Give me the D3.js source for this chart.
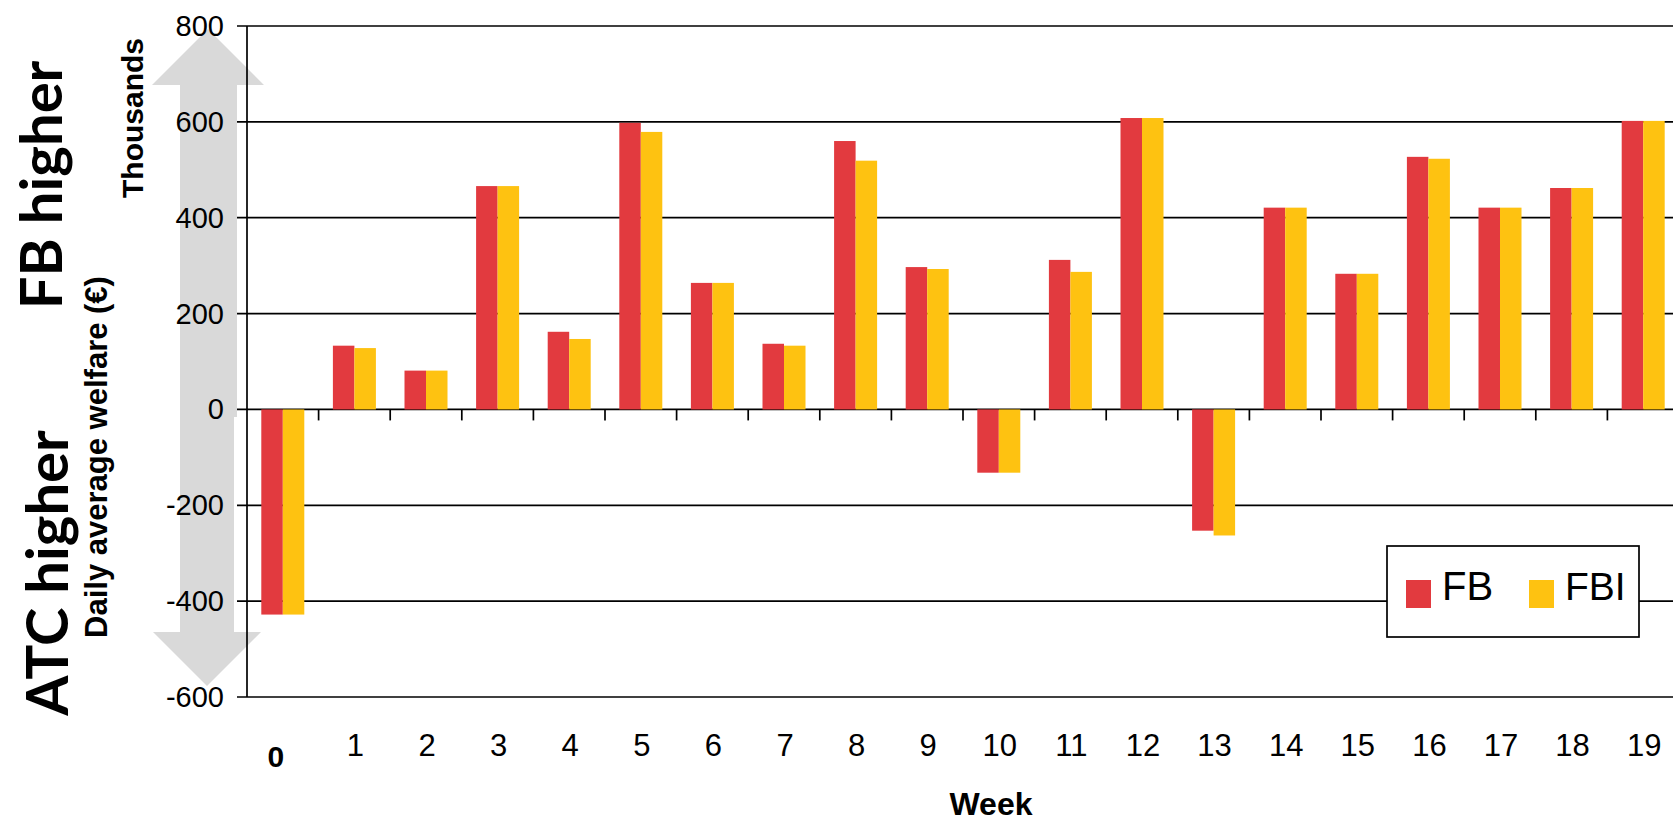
<!DOCTYPE html>
<html>
<head>
<meta charset="utf-8">
<script src="https://cdn.jsdelivr.net/npm/d3@7"></script>
<style>
  html, body { margin: 0; padding: 0; background: #fff; overflow: hidden; }
  svg { display: block; }
  text { font-family: "Liberation Sans", Arial, Helvetica, sans-serif; fill: #000; }
</style>
</head>
<body>
<svg id="chart" width="1673" height="825"></svg>
<script>
// Weeks shown along the horizontal axis
const weeks = ["0", "1", "2", "3", "4", "5", "6", "7", "8", "9",
               "10", "11", "12", "13", "14", "15", "16", "17", "18", "19"];
// Daily average welfare difference (thousands of €) per week
const fbValues  = [-428, 133, 81, 466, 162, 598, 264, 137, 560, 297,
                   -132, 312, 608, -253, 421, 283, 527, 421, 462, 602];
const fbiValues = [-428, 128, 81, 466, 147, 579, 264, 133, 519, 293,
                   -132, 287, 608, -263, 421, 283, 523, 421, 462, 602];
const seriesNames = ["FB", "FBI"];
const seriesColors = ["#E23A3F", "#FEC211"];
const yTicks = [-600, -400, -200, 0, 200, 400, 600, 800];

const svg = d3.select("#chart");

const plot = { left: 247, right: 1679, top: 26, bottom: 697 };

const x0 = d3.scaleBand().domain(weeks).range([plot.left, plot.right]).paddingInner(0).paddingOuter(0);
const x1 = d3.scaleBand().domain(seriesNames).range([0, x0.bandwidth()])
  .paddingInner(0).paddingOuter(0.665);
const y = d3.scaleLinear().domain([-600, 800]).range([plot.bottom, plot.top]);
const color = d3.scaleOrdinal().domain(seriesNames).range(seriesColors);

const rows = weeks.map((w, i) => ({ week: w, FB: fbValues[i], FBI: fbiValues[i] }));

// Direction arrows behind the value axis
const arrowGrey = "#D9D9D9";
const ax = 208;
svg.append("path")
  .attr("fill", arrowGrey)
  .attr("d", d3.line()([
    [180, y(-16)], [237, y(-16)], [237, 85], [264, 85], [ax, 29], [152, 85], [180, 85]
  ]));
svg.append("path")
  .attr("fill", arrowGrey)
  .attr("d", d3.line()([
    [180, y(0) + 5], [234, y(0) + 5], [234, 632], [261, 632], [207, 686], [153, 632], [180, 632]
  ]));

// Horizontal gridlines with left tick stubs
svg.append("g")
  .selectAll("line")
  .data(yTicks)
  .join("line")
  .attr("x1", 237).attr("x2", 1673)
  .attr("y1", d => y(d)).attr("y2", d => y(d))
  .attr("stroke", "#000").attr("stroke-width", 1.7);

// Value axis line
svg.append("line")
  .attr("x1", plot.left).attr("x2", plot.left)
  .attr("y1", y(800)).attr("y2", y(-600))
  .attr("stroke", "#000").attr("stroke-width", 1.7);

// Category ticks along the zero line
svg.append("g")
  .selectAll("line")
  .data(weeks.slice(1))
  .join("line")
  .attr("x1", d => x0(d)).attr("x2", d => x0(d))
  .attr("y1", y(0)).attr("y2", y(0) + 11)
  .attr("stroke", "#000").attr("stroke-width", 1.7);

// Bars
svg.append("g")
  .selectAll("g")
  .data(rows)
  .join("g")
  .attr("transform", d => `translate(${x0(d.week)},0)`)
  .selectAll("rect")
  .data(d => seriesNames.map(k => ({ key: k, value: d[k] })))
  .join("rect")
  .attr("x", d => x1(d.key))
  .attr("width", x1.bandwidth())
  .attr("y", d => y(Math.max(0, d.value)))
  .attr("height", d => Math.abs(y(d.value) - y(0)))
  .attr("fill", d => color(d.key));

// Value axis labels
svg.append("g")
  .selectAll("text")
  .data(yTicks)
  .join("text")
  .attr("x", 224)
  .attr("y", d => y(d) + 10)
  .attr("text-anchor", "end")
  .attr("font-size", 29)
  .text(d => d);

// Week labels
svg.append("g")
  .selectAll("text")
  .data(weeks)
  .join("text")
  .attr("x", d => x0(d) + x0.bandwidth() / 2 + (d === "0" ? -7 : 1))
  .attr("y", d => d === "0" ? 767 : 756)
  .attr("text-anchor", "middle")
  .attr("font-size", d => d === "0" ? 30 : 31)
  .attr("font-weight", d => d === "0" ? "bold" : "normal")
  .text(d => d);

// Axis titles
svg.append("text")
  .attr("x", 991).attr("y", 815)
  .attr("text-anchor", "middle")
  .attr("font-size", 32).attr("font-weight", "bold")
  .text("Week");

svg.append("text")
  .attr("transform", "translate(143,118) rotate(-90)")
  .attr("text-anchor", "middle")
  .attr("font-size", 30).attr("font-weight", "bold")
  .text("Thousands");

svg.append("text")
  .attr("transform", "translate(107,457) rotate(-90)")
  .attr("text-anchor", "middle")
  .attr("font-size", 31).attr("font-weight", "bold")
  .text("Daily average welfare (€)");

svg.append("text")
  .attr("transform", "translate(62,185) rotate(-90)")
  .attr("text-anchor", "middle")
  .style("font-family", "Lato, 'Open Sans', sans-serif")
  .attr("font-size", 58).attr("font-weight", "bold")
  .text("FB higher");

svg.append("text")
  .attr("transform", "translate(68,573) rotate(-90)")
  .attr("text-anchor", "middle")
  .style("font-family", "Lato, 'Open Sans', sans-serif")
  .attr("font-size", 58).attr("font-weight", "bold")
  .text("ATC higher");

// Legend
const legend = svg.append("g");
legend.append("rect")
  .attr("x", 1387).attr("y", 546).attr("width", 252).attr("height", 91)
  .attr("fill", "#fff").attr("stroke", "#000").attr("stroke-width", 1.7);
const legendItems = [
  { key: "FB", sx: 1406, tx: 1442, size: 40 },
  { key: "FBI", sx: 1529, tx: 1565, size: 39 }
];
legend.selectAll("rect.sw")
  .data(legendItems)
  .join("rect")
  .attr("class", "sw")
  .attr("x", d => d.sx).attr("y", 580)
  .attr("width", 25).attr("height", 28)
  .attr("fill", d => color(d.key));
legend.selectAll("text")
  .data(legendItems)
  .join("text")
  .attr("x", d => d.tx).attr("y", 600)
  .attr("font-size", d => d.size)
  .text(d => d.key);
</script>
</body>
</html>
